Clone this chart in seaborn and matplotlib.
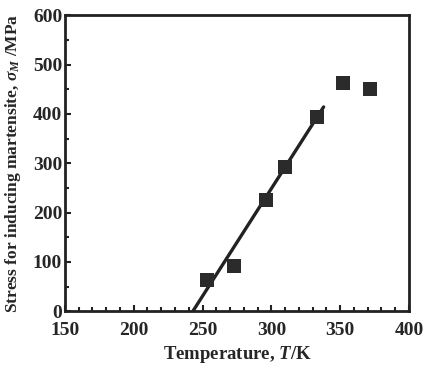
import matplotlib
matplotlib.use("Agg")
import matplotlib.pyplot as plt
from matplotlib.ticker import MultipleLocator
import seaborn as sns
import pandas as pd

# measured points
temperature = [253, 273, 296, 310, 333, 352, 372]
stress = [63, 91, 226, 292, 394, 463, 450]

# fitted line end points
fit_T = [243, 338]
fit_stress = [0, 414]

sns.set_style("ticks")
plt.rcParams['font.family'] = ['Liberation Serif', 'DejaVu Serif']
plt.rcParams['font.weight'] = 'bold'
plt.rcParams['mathtext.fontset'] = 'custom'
plt.rcParams['mathtext.rm'] = 'Liberation Serif:bold'
plt.rcParams['mathtext.it'] = 'Liberation Serif:italic:bold'
plt.rcParams['mathtext.bf'] = 'Liberation Serif:bold'

df = pd.DataFrame({'T': temperature, 'sigma': stress})
fit = pd.DataFrame({'T': fit_T, 'sigma': fit_stress})

fig = plt.figure(figsize=(4.3, 3.7), dpi=100)
ax = fig.add_axes([0.151, 0.159, 0.80, 0.80])

sns.lineplot(data=fit, x='T', y='sigma', color='#222222', linewidth=2.4, ax=ax)
sns.scatterplot(data=df, x='T', y='sigma', marker='s', s=95, color='#2b2b2b',
                edgecolor='#2b2b2b', linewidth=0, ax=ax, zorder=3)

ax.set_xlim(150, 400)
ax.set_ylim(0, 600)
ax.xaxis.set_major_locator(MultipleLocator(50))
ax.xaxis.set_minor_locator(MultipleLocator(10))
ax.yaxis.set_major_locator(MultipleLocator(100))
ax.yaxis.set_minor_locator(MultipleLocator(50))
ax.tick_params(which='both', direction='in', labelsize=14, width=1.5, color='#222222')
ax.tick_params(which='major', length=4)
ax.tick_params(which='minor', length=3)
ax.tick_params(axis='x', pad=7.5)
ax.tick_params(axis='y', pad=2)
for lbl in ax.get_xticklabels() + ax.get_yticklabels():
    lbl.set_fontweight('bold')
for sp in ax.spines.values():
    sp.set_linewidth(2)
    sp.set_color('#222222')

ax.set_xlabel(r'Temperature, $T$/K', fontsize=13.5, fontweight='bold', labelpad=4)
ax.set_ylabel(r'Stress for inducing martensite, $\sigma_M$ /MPa', fontsize=12.5,
              fontweight='bold', labelpad=7)

fig.savefig('out.png', dpi=100)
